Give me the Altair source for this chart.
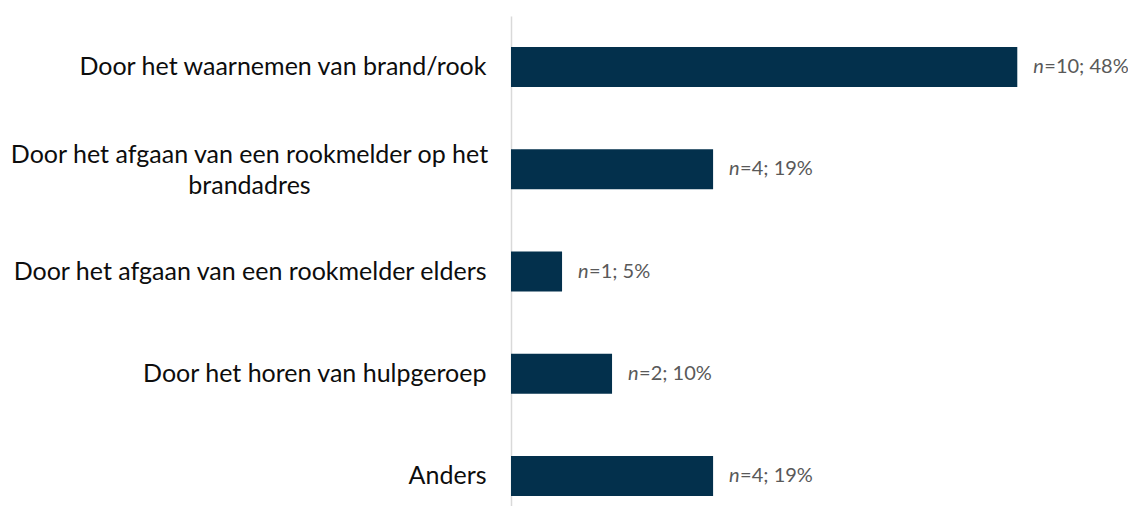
import altair as alt
import pandas as pd

categories = [
    "Door het waarnemen van brand/rook",
    "Door het afgaan van een rookmelder op het|brandadres",
    "Door het afgaan van een rookmelder elders",
    "Door het horen van hulpgeroep",
    "Anders",
]
counts = [10, 4, 1, 2, 4]
percentages = [47.6, 19.0, 4.8, 9.5, 19.0]

df = pd.DataFrame({"cat": categories, "n": counts, "pct": percentages})

FONT = "Lato"
BAR = "#03304c"
MULTI = "indexof(datum.value, '|') >= 0"

y_enc = alt.Y(
    "cat:N",
    sort=categories,
    title=None,
    scale=alt.Scale(range=[0, 511], paddingInner=0.609, paddingOuter=0.303),
    axis=alt.Axis(
        domainColor="#d9d9d9",
        domainWidth=1.5,
        ticks=False,
        labelFont=FONT,
        labelFontSize=25,
        labelColor="#0d0d0d",
        labelLimit=600,
        labelLineHeight=31,
        labelExpr="split(datum.label, '|')",
        labelAlign={"condition": {"test": MULTI, "value": "center"}, "value": "right"},
        labelPadding={"condition": {"test": MULTI, "value": 262}, "value": 25},
        labelOffset={"condition": {"test": MULTI, "value": -14}, "value": 0},
    ),
)
x_enc = alt.X("pct:Q", title=None, scale=alt.Scale(domain=[0, 55]), axis=None)
y_txt = alt.Y("cat:N", sort=categories)

bars = alt.Chart(df).mark_bar(color=BAR).encode(x=x_enc, y=y_enc)

n_text = alt.Chart(df).mark_text(
    align="left", baseline="middle", dx=16, font=FONT, fontSize=20, fontStyle="italic", color="#595959"
).encode(x=x_enc, y=y_txt, text=alt.value("n"))

rest_text = alt.Chart(df).transform_calculate(
    lab="'=' + datum.n + '; ' + round(datum.pct) + '%'"
).mark_text(
    align="left", baseline="middle", dx=27, font=FONT, fontSize=20, color="#595959"
).encode(x=x_enc, y=y_txt, text="lab:N")

chart = alt.layer(bars, n_text, rest_text).properties(
    width=585,
    height=490,
    autosize=alt.AutoSizeParams(type="none"),
    padding={"left": 503, "top": 8, "right": 32, "bottom": 0},
).configure_view(stroke=None)

chart.save("out.html", embed_options={"renderer": "svg", "actions": False})
